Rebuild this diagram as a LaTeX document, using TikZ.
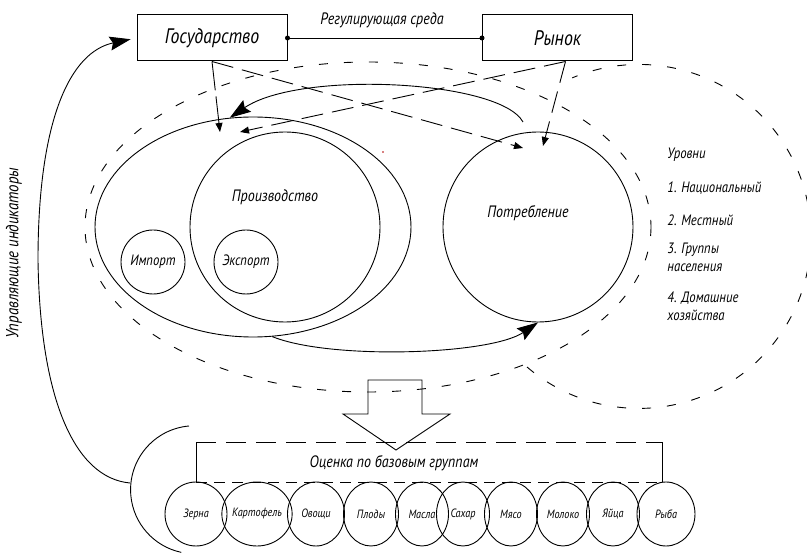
\documentclass[tikz,border=0pt]{standalone}
\usepackage{fontspec}
\setmainfont{PT Sans}[FakeStretch=0.85]
\usetikzlibrary{arrows.meta,shapes.geometric}

\tikzset{
  box/.style={draw, line width=1pt, minimum width=150pt, minimum height=46pt, font=\itshape\fontsize{21}{21}\selectfont},
  txt/.style={font=\itshape\fontsize{16.5}{16.5}\selectfont},
  lvl/.style={anchor=west, inner sep=0pt, font=\itshape\fontsize{15}{15}\selectfont},
  ring/.style={draw, circle, inner sep=0pt},
  prod/.style={draw, ellipse, inner sep=0pt, minimum height=64pt, font=\itshape\fontsize{12}{12}\selectfont},
  sparse/.style={dash pattern=on 9pt off 16pt},
  longdash/.style={dash pattern=on 22pt off 9pt},
  small/.style={-{Stealth[length=9pt,width=7pt,inset=0pt]}},
  big/.style={-{Stealth[length=21pt,width=14pt,inset=3pt]}},
}

\begin{document}
\begin{tikzpicture}[x=1pt, y=-1pt, line width=0.9pt]
        \useasboundingbox (0,0) rectangle (807,553);

        % Boxes
        \node[box] (gos) at (212,38) {Государство};
        \node[box] (rynok) at (557.5,38) {Рынок};
        \draw (gos.east) -- (rynok.west);
        \fill (gos.east) circle (2.5);
        \fill (rynok.west) circle (2.5);
        \node[txt] (sreda) at (382,20) {Регулирующая среда};

        % Spheres
        \node[draw, ellipse, inner sep=0pt, minimum width=316pt, minimum height=220pt] (sfera) at (253,227) {};
        \node[ring, minimum size=190pt] (proizv) at (285,227) {};
        \node[txt] (proizvlbl) at (275,197) {Производство};
        \node[ring, minimum size=64pt, txt, font=\itshape\fontsize{15}{15}\selectfont] (import) at (153,262) {Импорт};
        \node[ring, minimum size=64pt, txt, font=\itshape\fontsize{15}{15}\selectfont] (eksport) at (246,262) {Экспорт};
        \node[ring, minimum size=190pt] (potreb) at (538,227) {};
        \node[txt] (potreblbl) at (528,213) {Потребление};
        \fill[red!70!black] (383,152) circle (0.9);

        % Levels
        \draw[sparse] (368,227) ellipse [x radius=283, y radius=165];
        \draw[sparse] (527,367) arc[start angle=-229.4, end angle=-472.8, radius=172];
        \node[lvl] (urovni) at (667,155) {Уровни};
        \node[lvl] (lv1) at (667,188) {1. Национальный};
        \node[lvl] (lv2) at (667,220) {2. Местный};
        \node[lvl] (lv3a) at (667,250) {3. Группы};
        \node[lvl] (lv3b) at (667,268) {населения};
        \node[lvl] (lv4a) at (667,298) {4. Домашние};
        \node[lvl] (lv4b) at (667,315) {хозяйства};

        % Regulation arrows
        \coordinate (ta) at (220,132);
        \coordinate (tb) at (523,148);
        \coordinate (tc) at (543,146);
        \coordinate (td) at (240,132);
        \draw[small, dash pattern=on 29pt off 6pt] (gos.south) -- (ta);
        \draw[small, longdash] (gos.south) -- (tb);
        \draw[small, longdash] ([xshift=8pt]rynok.south) -- (tc);
        \draw[small, longdash] ([xshift=8pt]rynok.south) -- (td);

        % Curved arrows
        \coordinate (es) at (523,122);
        \draw[big] (es) .. controls (500,80) and (300,70) .. (sfera.102);
        \draw[big] (sfera.-80) .. controls (330,360) and (490,355) .. (potreb.south);

        % Big arrow
        \draw (368,380) -- (422,380) -- (422,414) -- (450,414) -- (396,450) -- (343,414) -- (368,414) -- cycle;

        % Base groups
        \coordinate (bl) at (196,442);
        \coordinate (br) at (662,442);
        \coordinate (bl2) at (196,482);
        \coordinate (br2) at (662,482);
        \draw (bl2) -- (bl);
        \draw (br2) -- (br);
        \draw[dash pattern=on 20pt off 10pt] (bl) -- (br);
        \draw[dash pattern=on 11pt off 7pt] (bl2) -- (br2);
        \node[txt] (ocenka) at (394,463) {Оценка по базовым группам};
        \node[prod, minimum width=62pt] (zerno) at (196,514) {Зерна};
        \node[prod, minimum width=60pt] (kartofel) at (257,514) {Картофель};
        \node[prod, minimum width=57pt] (ovoshchi) at (316,514) {Овощи};
        \node[prod, minimum width=55pt] (plody) at (371,514) {Плоды};
        \node[prod, minimum width=53pt] (masla) at (422,514) {Масла};
        \node[prod, minimum width=53pt] (sakhar) at (463,514) {Сахар};
        \node[prod, minimum width=53pt] (myaso) at (511,514) {Мясо};
        \node[prod, minimum width=53pt] (moloko) at (563,514) {Молоко};
        \node[prod, minimum width=53pt] (yaytsa) at (613,514) {Яйца};
        \node[prod, minimum width=58pt] (ryba) at (666,514) {Рыба};

        % Control indicators
        \draw (189,426) arc[start angle=-95, end angle=-258, radius=64];
        \coordinate (cl) at (130,483);
        \draw[big, shorten >=6pt] (cl) .. controls (75,478) and (40,400) .. (38,260) .. controls (38,120) and (70,52) .. (gos.west);
        \node[txt, rotate=90, font=\itshape\fontsize{17.5}{17.5}\selectfont] (upr) at (14,253) {Управляющие индикаторы};

    \end{tikzpicture}
\end{document}
